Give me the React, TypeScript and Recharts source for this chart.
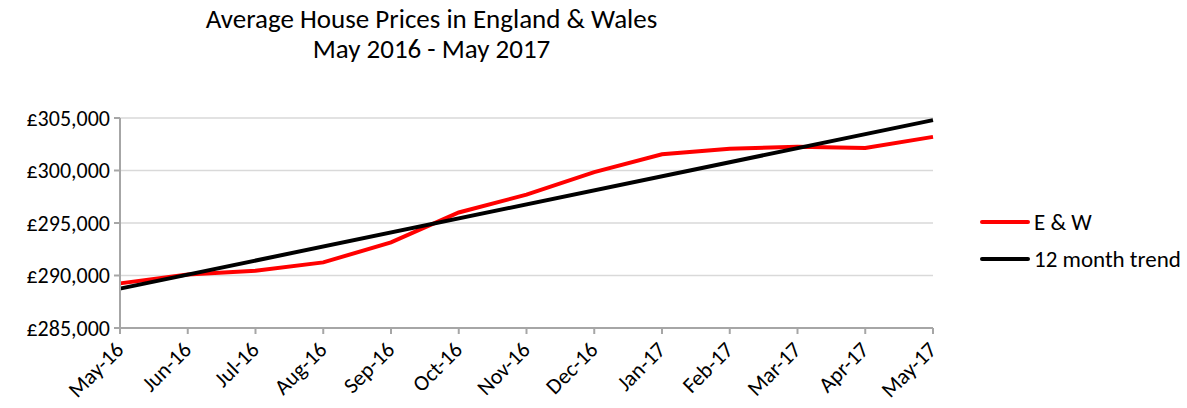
import { LineChart, Line, XAxis, YAxis, CartesianGrid, Legend } from 'recharts';

const months = [
  'May-16', 'Jun-16', 'Jul-16', 'Aug-16', 'Sep-16', 'Oct-16', 'Nov-16',
  'Dec-16', 'Jan-17', 'Feb-17', 'Mar-17', 'Apr-17', 'May-17',
];
const ewPrices = [
  289250, 290100, 290450, 291250, 293150, 296000, 297700,
  299850, 301550, 302080, 302250, 302150, 303200,
];
// trend is a straight line: only its two ends are read, the rest is drawn by connectNulls
const trendPrices = [
  288750, null, null, null, null, null, null,
  null, null, null, null, null, 304800,
];
const yTicks = [285000, 290000, 295000, 300000, 305000];
const legendOrder = ['E & W', '12 month trend'];

const FONT = 'Carlito, Lato, sans-serif';
const AXIS_GREY = '#a6a6a6';
const LEGEND_W = 207;

const chartData = months.map((m, i) => ({
  month: m,
  ew: ewPrices[i],
  trend: trendPrices[i],
}));

const formatPound = (v: number) => '£' + v.toLocaleString('en-GB');

function MonthTick(props: any) {
  const { x, y, payload } = props;
  const ax = x + 5;
  const ay = y + 15;
  return (
    <text
      x={ax}
      y={ay}
      transform={`rotate(-45, ${ax}, ${ay})`}
      textAnchor="end"
      fontFamily={FONT}
      fontSize={22}
      fill="#000"
    >
      {payload.value}
    </text>
  );
}

function LegendBox(props: any) {
  const items = [...(props.payload || [])].sort(
    (a: any, b: any) => legendOrder.indexOf(a.value) - legendOrder.indexOf(b.value)
  );
  return (
    <div style={{ fontFamily: FONT, fontSize: 23, color: '#000' }}>
      {items.map((p: any) => (
        <div key={p.value} style={{ display: 'flex', alignItems: 'center', height: 37 }}>
          <svg width={50} height={10} style={{ marginRight: 4 }}>
            <line x1={2} y1={5} x2={48} y2={5} stroke={p.color} strokeWidth={4} strokeLinecap="round" />
          </svg>
          <span>{p.value}</span>
        </div>
      ))}
    </div>
  );
}

export default function App() {
  return (
    <div style={{ position: 'absolute', left: 0, top: 0, width: 1187, height: 408, background: '#fff' }}>
      <div
        style={{
          position: 'absolute',
          left: 0,
          width: 863,
          top: 4,
          textAlign: 'center',
          fontFamily: FONT,
          fontSize: 27,
          lineHeight: '30px',
          color: '#000',
        }}
      >
        Average House Prices in England &amp; Wales
        <br />
        May 2016 - May 2017
      </div>
      <LineChart
        width={1187}
        height={408}
        data={chartData}
        margin={{ top: 118, right: 254 - LEGEND_W, bottom: 0, left: 0 }}
      >
        <CartesianGrid vertical={false} stroke="#d9d9d9" strokeWidth={1.5} />
        <XAxis
          dataKey="month"
          height={80}
          interval={0}
          tick={<MonthTick />}
          tickSize={6}
          axisLine={{ stroke: AXIS_GREY, strokeWidth: 2 }}
          tickLine={{ stroke: AXIS_GREY, strokeWidth: 2 }}
        />
        <YAxis
          width={120}
          domain={[285000, 305000]}
          ticks={yTicks}
          tickFormatter={formatPound}
          tickSize={6}
          tickMargin={4}
          axisLine={{ stroke: AXIS_GREY, strokeWidth: 2 }}
          tickLine={{ stroke: AXIS_GREY, strokeWidth: 2 }}
          tick={{ fill: '#000', fontSize: 22, fontFamily: FONT }}
        />
        <Legend
          layout="vertical"
          align="right"
          verticalAlign="top"
          content={<LegendBox />}
          wrapperStyle={{ left: 980, top: 203, width: LEGEND_W }}
        />
        <Line
          type="linear"
          dataKey="ew"
          name="E & W"
          stroke="#ff0000"
          strokeWidth={4}
          dot={false}
          activeDot={false}
          isAnimationActive={false}
        />
        <Line
          type="linear"
          dataKey="trend"
          name="12 month trend"
          stroke="#000000"
          strokeWidth={4}
          dot={false}
          activeDot={false}
          connectNulls
          isAnimationActive={false}
        />
      </LineChart>
    </div>
  );
}
